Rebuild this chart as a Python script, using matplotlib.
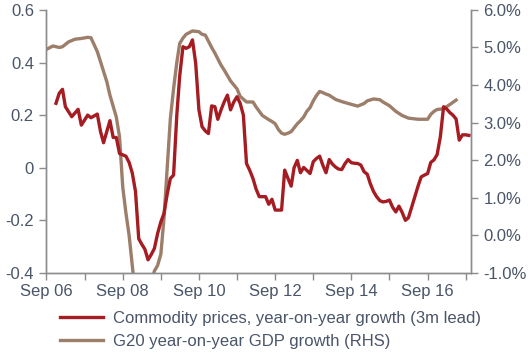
import matplotlib
matplotlib.use("Agg")
import matplotlib.pyplot as plt
import pandas as pd
import numpy as np

# months since Sep 2006 and values
red_m = [3,4,5,6,8,10,11,13,14,16,17,18,20,21,22,23,25,26,27,28,29,30,31,32,33,34,35,36,37,38,39,40,
         41,42,43,44,45,46,47,48,49,50,51,52,53,54,55,56,57,58,59,60,61,62,63,64,65,66,67,68,69,70,
         71,72,73,74,75,76,77,78,79,80,81,82,83,84,85,86,87,88,89,90,91,92,93,94,95,96,97,98,99,100,
         101,102,103,104,105,106,107,108,109,110,111,112,113,114,115,116,117,118,119,120,121,122,123,
         124,125,126,127,128,129,130,131,132,133]
red_v = [0.245,0.283,0.298,0.232,0.194,0.222,0.162,0.200,0.190,0.204,0.137,0.095,0.179,0.115,0.115,0.054,
         0.044,0.020,-0.020,-0.090,-0.270,-0.290,-0.310,-0.350,-0.330,-0.307,-0.250,-0.206,-0.174,-0.100,
         -0.041,-0.028,0.200,0.350,0.460,0.454,0.460,0.486,0.397,0.220,0.156,0.140,0.130,0.235,0.232,
         0.184,0.220,0.250,0.276,0.220,0.250,0.270,0.245,0.200,0.016,-0.010,-0.041,-0.080,-0.110,-0.110,
         -0.110,-0.139,-0.120,-0.161,-0.161,-0.161,-0.009,-0.040,-0.070,0.000,0.028,-0.019,0.001,-0.010,
         -0.022,0.023,0.035,0.044,0.010,-0.019,0.031,0.015,0.003,-0.005,-0.007,0.015,0.031,0.019,0.017,
         0.016,0.010,-0.015,-0.025,-0.060,-0.090,-0.110,-0.125,-0.130,-0.128,-0.123,-0.150,-0.168,-0.146,
         -0.170,-0.200,-0.190,-0.150,-0.111,-0.070,-0.035,-0.028,-0.022,0.020,0.030,0.050,0.118,0.232,
         0.224,0.210,0.200,0.185,0.105,0.125,0.125,0.123]

gdp_m = [0,2,4,5,7,9,11,13,14,16,17,19,20,22,23,24,25,26,27,28,30,32,34,35,36,37,38,39,40,41,42,43,44,
         46,48,49,50,52,53,55,56,58,60,61,63,65,66,68,70,71,72,73,74,75,76,77,79,80,81,82,83,84,85,86,
         87,88,89,91,93,95,98,100,101,103,105,106,107,108,110,112,114,117,120,121,122,123,125,127,129]
gdp_v = [4.95,5.04,5.00,5.02,5.15,5.22,5.24,5.27,5.26,4.89,4.62,4.09,3.73,3.15,2.62,1.28,0.60,0.00,-0.80,
         -1.60,-2.00,-1.60,-0.95,-0.80,-0.50,0.45,1.80,3.10,3.90,4.60,5.11,5.25,5.35,5.44,5.42,5.35,5.33,
         5.00,4.85,4.53,4.40,4.11,3.90,3.70,3.55,3.55,3.42,3.19,3.08,3.03,2.97,2.82,2.72,2.69,2.72,2.76,
         2.97,3.05,3.15,3.30,3.40,3.58,3.72,3.83,3.80,3.76,3.73,3.62,3.56,3.51,3.44,3.51,3.58,3.63,3.61,
         3.55,3.50,3.45,3.30,3.19,3.12,3.09,3.09,3.22,3.30,3.35,3.37,3.48,3.60]

tick_labels = ["Sep 06", "Sep 08", "Sep 10", "Sep 12", "Sep 14", "Sep 16"]
left_ticks = [-0.4, -0.2, 0, 0.2, 0.4, 0.6]
left_labels = ["-0.4", "-0.2", "0", "0.2", "0.4", "0.6"]
right_ticks = [-1, 0, 1, 2, 3, 4, 5, 6]

start = pd.Timestamp("2006-09-01")
red_d = [start + pd.DateOffset(months=m) for m in red_m]
gdp_d = [start + pd.DateOffset(months=m) for m in gdp_m]

RED = "#A51C22"
BROWN = "#9C7E6A"
TXT = "#4A5568"
SPINE = "#8C8C8C"

plt.rcParams['font.family'] = ['Liberation Sans', 'DejaVu Sans']

fig = plt.figure(figsize=(5.32, 3.54), dpi=100)
ax = fig.add_axes([0.0874, 0.229, 0.7976, 0.743])
ax2 = ax.twinx()

l1, = ax.plot(red_d, red_v, color=RED, lw=2.4, zorder=3)
l2, = ax2.plot(gdp_d, gdp_v, color=BROWN, lw=2.4)
ax.set_zorder(ax2.get_zorder() + 1)
ax.patch.set_visible(False)

ax.set_ylim(-0.4, 0.6)
ax2.set_ylim(-1, 6)
ax.set_xlim(pd.Timestamp("2006-09-01"), pd.Timestamp("2017-10-20"))

major = [pd.Timestamp(f"{y}-09-01") for y in range(2006, 2017, 2)]
minor = [pd.Timestamp(f"{y}-09-01") for y in range(2007, 2018, 2)]
ax.set_xticks(major)
ax.set_xticklabels(tick_labels)
ax.set_xticks(minor, minor=True)

ax.set_yticks(left_ticks)
ax.set_yticklabels(left_labels)
ax2.set_yticks(right_ticks)
ax2.set_yticklabels([f"{v:.1f}%" for v in right_ticks])

for a in (ax, ax2):
    a.spines['top'].set_visible(False)
    for s in ('left', 'right', 'bottom'):
        a.spines[s].set_color(SPINE)
        a.spines[s].set_linewidth(1.0)
    a.tick_params(axis='both', which='both', colors=SPINE, labelcolor=TXT,
                  labelsize=12, length=5, width=1.0, direction='out')
ax.tick_params(axis='x', which='both', pad=3)
ax.tick_params(axis='y', pad=4)
ax2.tick_params(axis='y', pad=4)

fig.legend([l1, l2], ["Commodity prices, year-on-year growth (3m lead)",
                      "G20 year-on-year GDP growth (RHS)"],
           loc='upper left', bbox_to_anchor=(0.113, 0.122), frameon=False,
           fontsize=12, labelcolor=TXT, handlelength=2.6, handletextpad=0.55,
           labelspacing=0.5, borderaxespad=0, borderpad=0)

fig.savefig("out.png", dpi=100)
